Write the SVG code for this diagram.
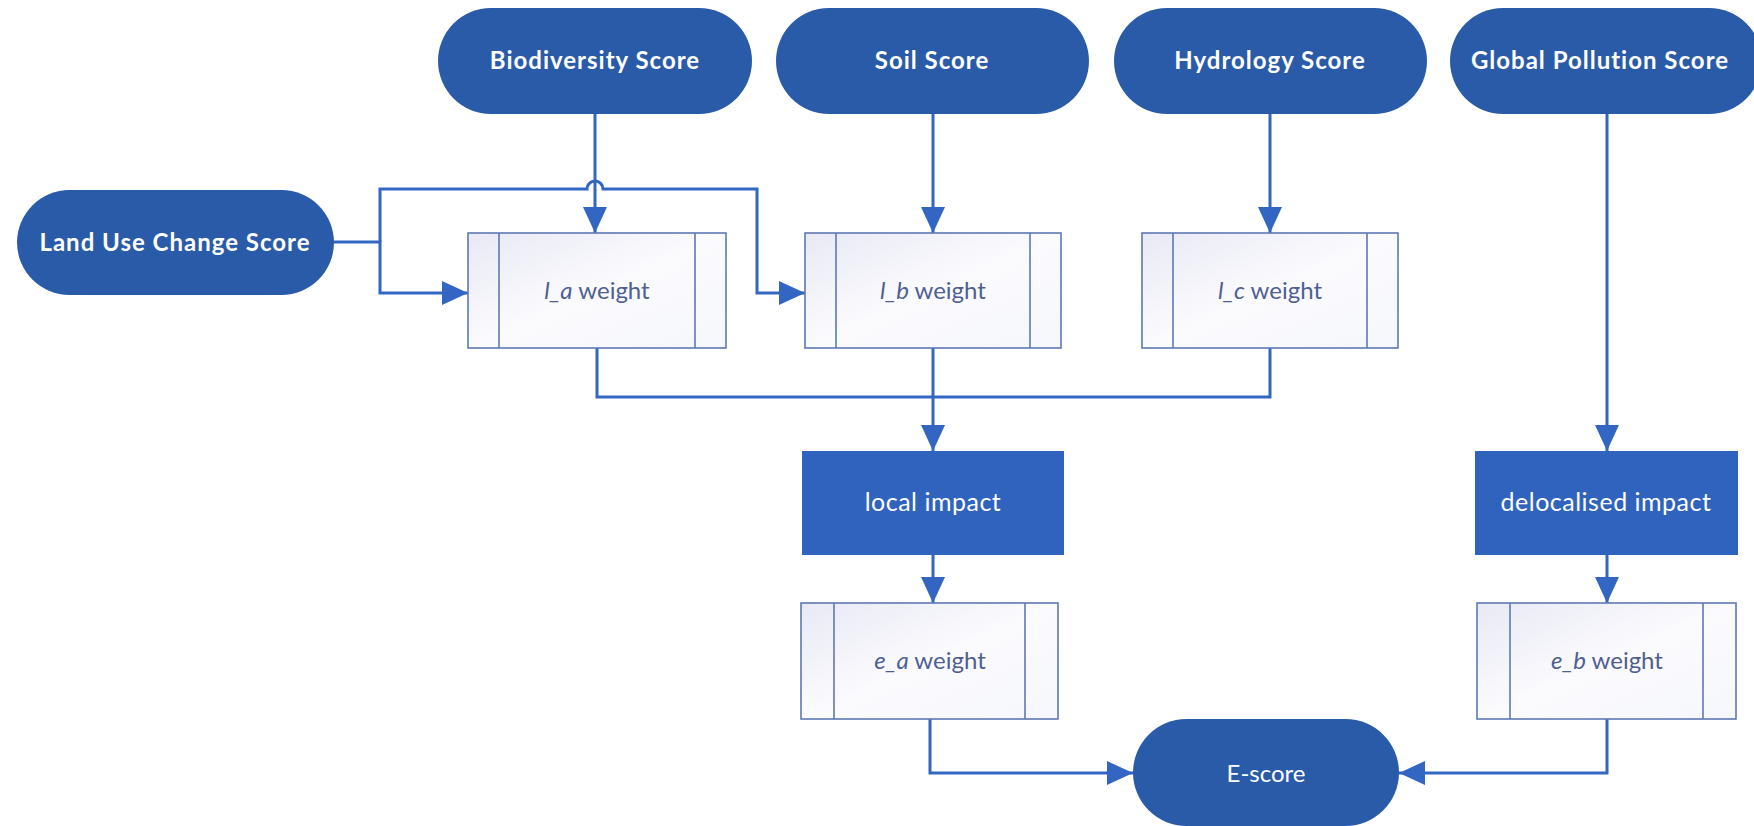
<svg xmlns="http://www.w3.org/2000/svg" width="1754" height="826" viewBox="0 0 1754 826">
<defs>
<style>
.term{fill:#2A5BA9;}
.termtxt{fill:#FFFFFF;font-family:Lato,"Open Sans",sans-serif;font-weight:bold;font-size:24px;letter-spacing:1px;text-anchor:middle;}
.etxt{fill:#FFFFFF;font-family:Lato,"Open Sans",sans-serif;font-weight:normal;font-size:24px;text-anchor:middle;}
.proc{fill:#2F63BD;}
.proctxt{fill:#FFFFFF;font-family:Lato,"Open Sans",sans-serif;font-size:25px;letter-spacing:0.5px;text-anchor:middle;}
.sub{fill:url(#subg);stroke:#5F78B4;stroke-width:1.6;}
.subline{stroke:#5F78B4;stroke-width:1.6;fill:none;}
.subtxt{fill:#4F5F92;font-family:Lato,"Open Sans",sans-serif;font-size:24px;text-anchor:middle;}
.conn{fill:none;stroke:#3366C2;stroke-width:3;marker-end:url(#arr);}
.connn{fill:none;stroke:#3366C2;stroke-width:3;}
</style>
<linearGradient id="subg" x1="0" y1="0" x2="1" y2="1">
<stop offset="0" stop-color="#E8E9F4"/>
<stop offset="0.5" stop-color="#FBFBFE"/>
<stop offset="1" stop-color="#F6F7FC"/>
</linearGradient>
<marker id="arr" markerUnits="userSpaceOnUse" markerWidth="26" markerHeight="24" refX="26" refY="12" orient="auto" viewBox="0 0 26 24">
<path d="M0,0 L26,12 L0,24 z" fill="#3366C2"/>
</marker>
</defs>
<rect width="1754" height="826" fill="#FFFFFF"/>

<g id="connectors">
<path class="conn" d="M595 114 V233"/>
<path class="conn" d="M933 114 V233"/>
<path class="conn" d="M1270 114 V233"/>
<path class="conn" d="M1607 114 V451"/>
<path class="conn" d="M334 242 H380 V293 H468"/>
<path class="conn" d="M380 242 V189 H587 A8 8 0 0 1 603 189 H757 V293 H805"/>
<path class="connn" d="M597 348 V397 H1270 V348"/>
<path class="conn" d="M933 348 V451"/>
<path class="conn" d="M933 555 V603"/>
<path class="conn" d="M930 719 V773 H1133"/>
<path class="conn" d="M1607 555 V603"/>
<path class="conn" d="M1607 719 V773 H1399"/>
</g>

<g id="biodiversity">
<rect class="term" x="438" y="8" width="314" height="106" rx="53"/>
<text class="termtxt" x="595" y="69">Biodiversity Score</text>
</g>
<g id="soil">
<rect class="term" x="776" y="8" width="313" height="106" rx="53"/>
<text class="termtxt" x="932" y="69">Soil Score</text>
</g>
<g id="hydrology">
<rect class="term" x="1114" y="8" width="313" height="106" rx="53"/>
<text class="termtxt" x="1270" y="69">Hydrology Score</text>
</g>
<g id="global-pollution">
<rect class="term" x="1450" y="8" width="312" height="106" rx="53"/>
<text class="termtxt" x="1600" y="69">Global Pollution Score</text>
</g>
<g id="land-use">
<rect class="term" x="17" y="190" width="317" height="105" rx="52.5"/>
<text class="termtxt" x="175" y="251">Land Use Change Score</text>
</g>

<g id="la-weight">
<rect class="sub" x="468" y="233" width="258" height="115"/>
<path class="subline" d="M499 233 V348 M695 233 V348"/>
<text class="subtxt" x="597" y="299"><tspan font-style="italic">l_a</tspan> weight</text>
</g>
<g id="lb-weight">
<rect class="sub" x="805" y="233" width="256" height="115"/>
<path class="subline" d="M836 233 V348 M1030 233 V348"/>
<text class="subtxt" x="933" y="299"><tspan font-style="italic">l_b</tspan> weight</text>
</g>
<g id="lc-weight">
<rect class="sub" x="1142" y="233" width="256" height="115"/>
<path class="subline" d="M1173 233 V348 M1367 233 V348"/>
<text class="subtxt" x="1270" y="299"><tspan font-style="italic">l_c</tspan> weight</text>
</g>

<g id="local-impact">
<rect class="proc" x="802" y="451" width="262" height="104"/>
<text class="proctxt" x="933" y="511">local impact</text>
</g>
<g id="delocalised-impact">
<rect class="proc" x="1475" y="451" width="263" height="104"/>
<text class="proctxt" x="1606" y="511">delocalised impact</text>
</g>

<g id="ea-weight">
<rect class="sub" x="801" y="603" width="257" height="116"/>
<path class="subline" d="M834 603 V719 M1025 603 V719"/>
<text class="subtxt" x="930" y="669"><tspan font-style="italic">e_a</tspan> weight</text>
</g>
<g id="eb-weight">
<rect class="sub" x="1477" y="603" width="259" height="116"/>
<path class="subline" d="M1510 603 V719 M1703 603 V719"/>
<text class="subtxt" x="1607" y="669"><tspan font-style="italic">e_b</tspan> weight</text>
</g>

<g id="e-score">
<rect class="term" x="1133" y="719" width="266" height="107" rx="53.5"/>
<text class="etxt" x="1266" y="782">E-score</text>
</g>
</svg>
